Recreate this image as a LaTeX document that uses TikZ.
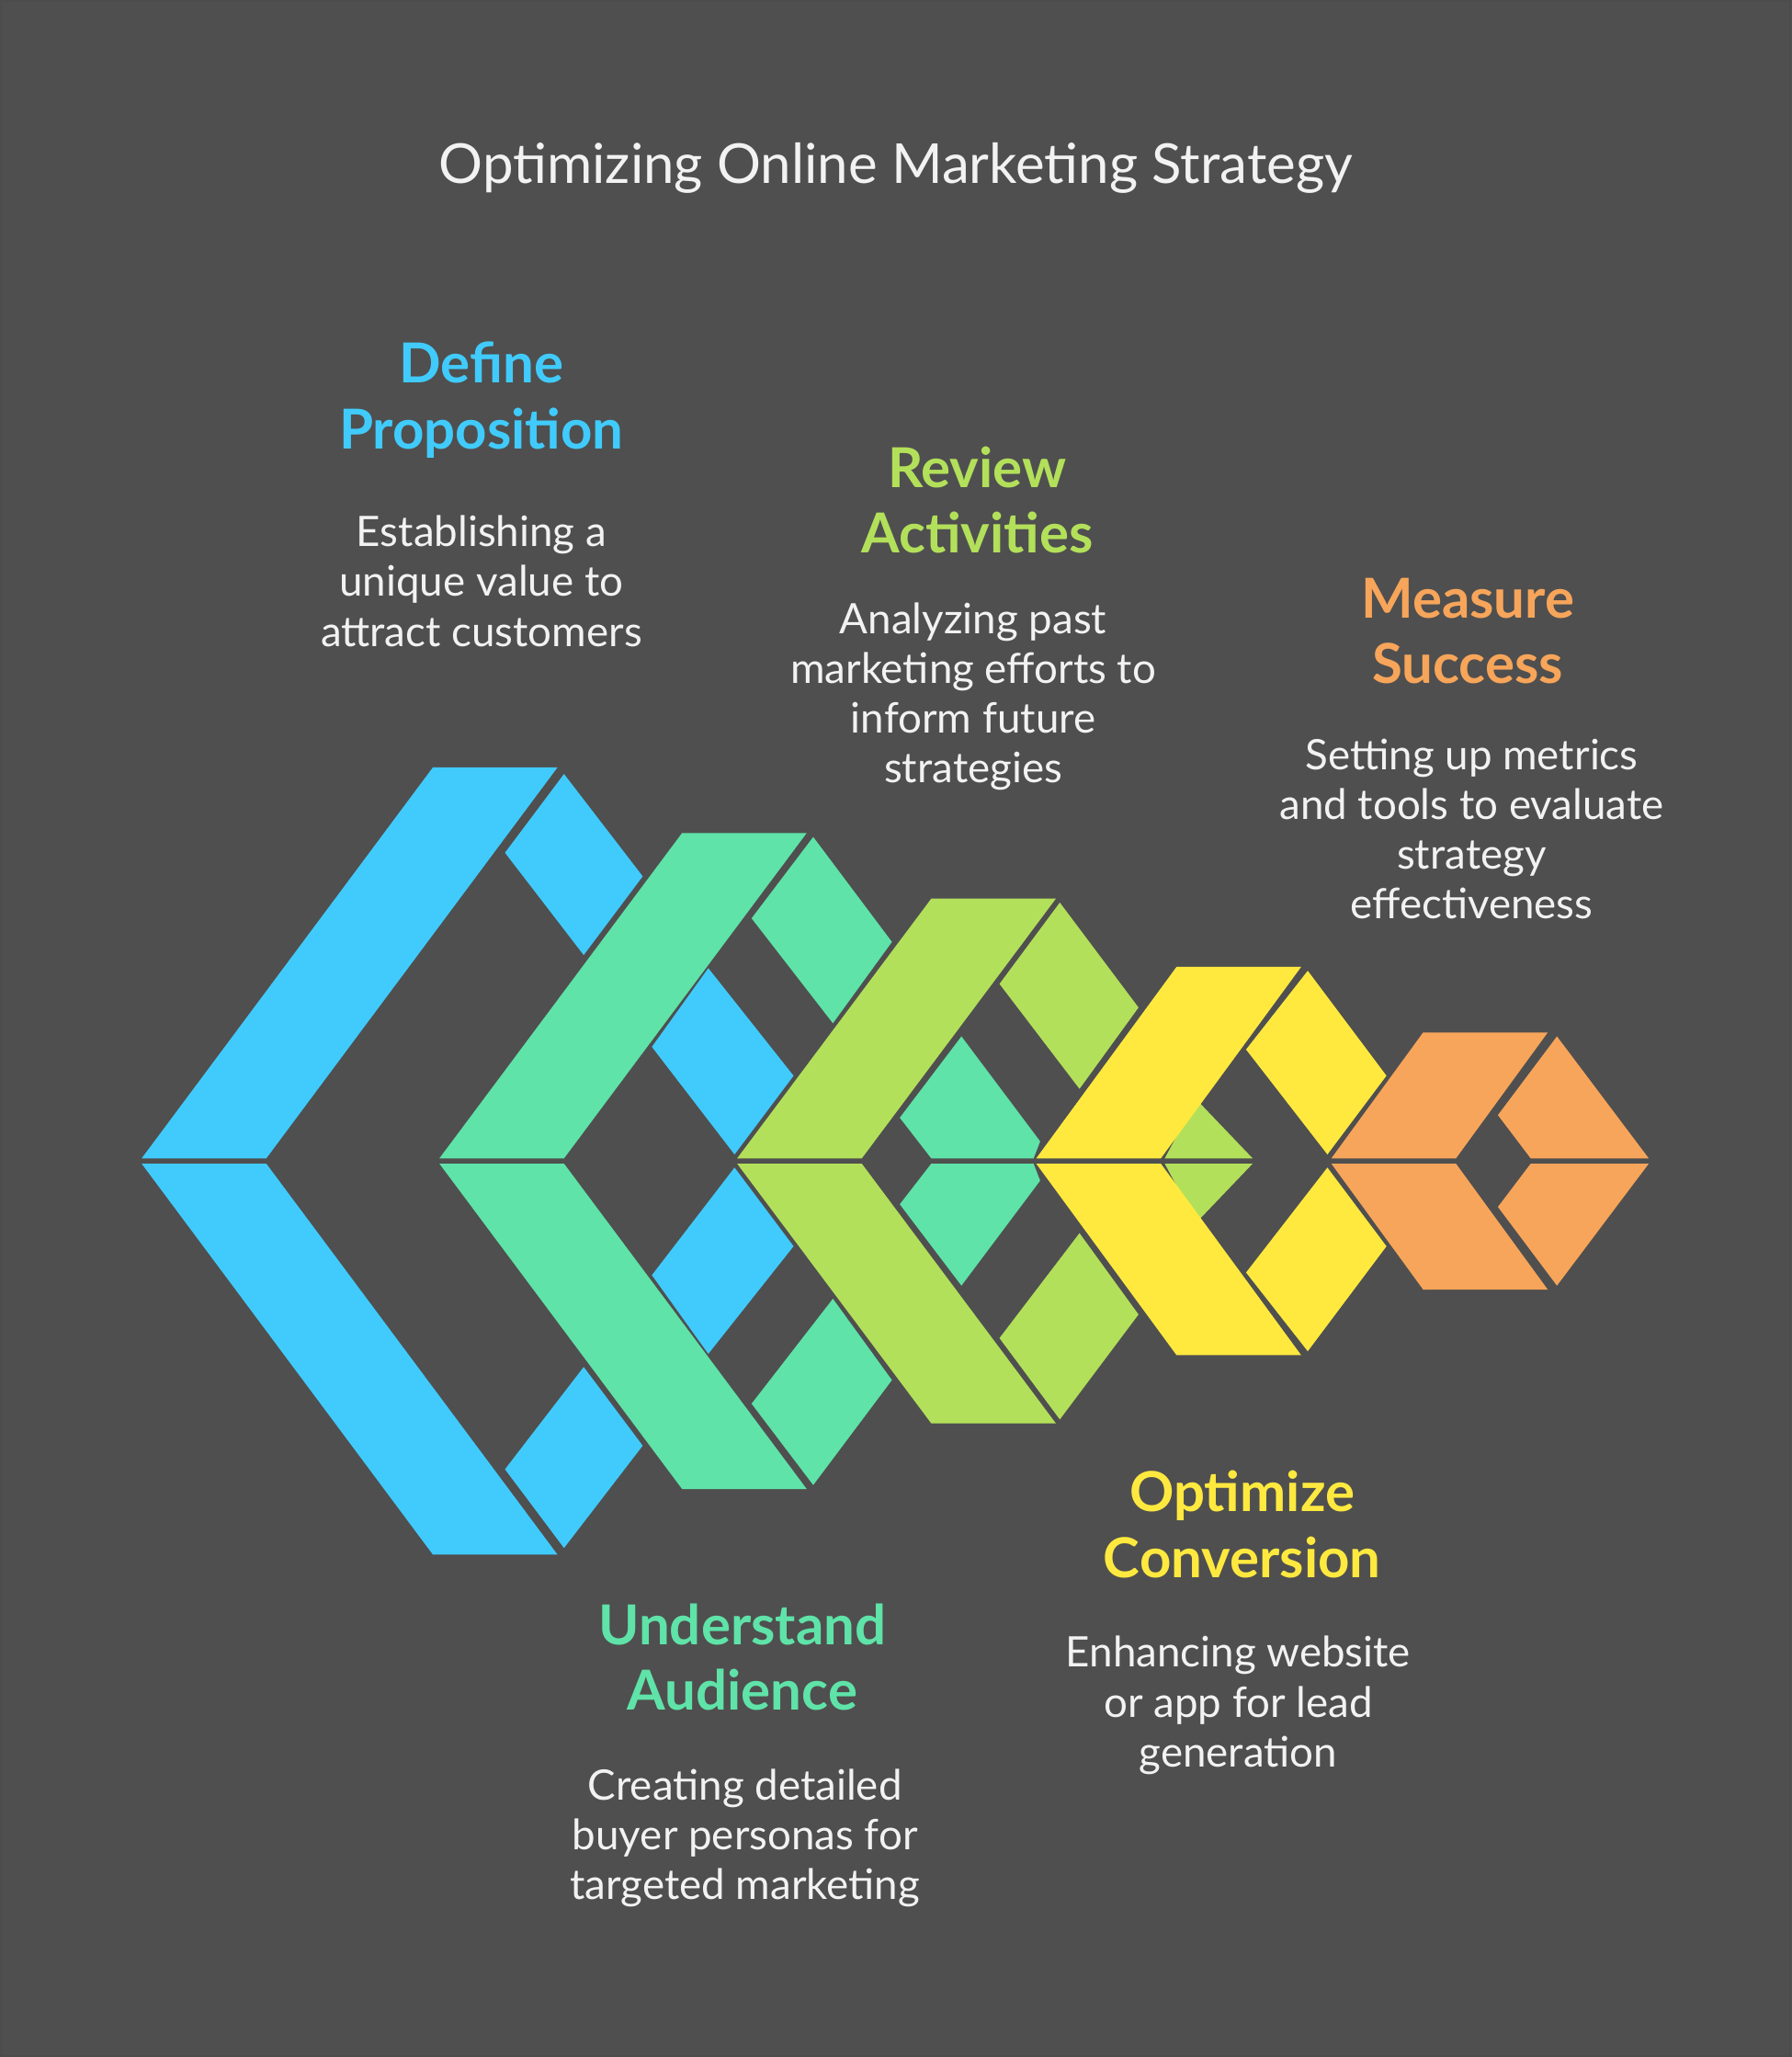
\documentclass[tikz,border=0pt]{standalone}
\usepackage{fontspec}
\setmainfont{Lato}
\definecolor{bg}{HTML}{4F4F4F}
\definecolor{cb}{HTML}{40CBFC}
\definecolor{cg}{HTML}{5FE3A8}
\definecolor{cl}{HTML}{B3E05A}
\definecolor{cy}{HTML}{FFE93F}
\definecolor{co}{HTML}{F7A55A}
\definecolor{tx}{HTML}{F2F2F2}
\begin{document}
\begin{tikzpicture}[x=1pt,y=-1pt,
 head/.style={font=\fontsize{42}{50}\selectfont\bfseries,align=center},
 body/.style={font=\fontsize{32}{38}\selectfont,align=center,text=tx}]
\fill[bg] (0,0) rectangle (1366,1568);
\draw[black!70,line width=1.5] (1,1) rectangle (1365,1567);
\node[font=\fontsize{42}{48}\selectfont,text=tx] (title) at (683,128) {Optimizing Online Marketing Strategy};
% blue
\fill[cb] (330,585)--(425,585)--(203,883)--(108,883)--cycle;
\fill[cb] (108,887)--(203,887)--(425,1185)--(330,1185)--cycle;
\fill[cb] (430,590)--(490,668)--(445,728)--(385,650)--cycle;
\fill[cb] (540,738)--(605,820)--(560,880)--(497,798)--cycle;
\fill[cb] (540,1032)--(605,950)--(560,890)--(497,972)--cycle;
\fill[cb] (430,1180)--(490,1102)--(445,1042)--(385,1120)--cycle;
% green
\fill[cg] (520,635)--(615,635)--(430,883)--(335,883)--cycle;
\fill[cg] (335,887)--(430,887)--(615,1135)--(520,1135)--cycle;
\fill[cg] (620,638)--(680,718)--(635,780)--(573,700)--cycle;
\fill[cg] (733,790)--(793,870)--(788,883)--(710,883)--(686,852)--cycle;
\fill[cg] (733,980)--(793,900)--(788,887)--(710,887)--(686,918)--cycle;
\fill[cg] (620,1132)--(680,1052)--(635,990)--(573,1070)--cycle;
% lime
\fill[cl] (710,685)--(805,685)--(657,883)--(562,883)--cycle;
\fill[cl] (562,887)--(657,887)--(805,1085)--(710,1085)--cycle;
\fill[cl] (808,688)--(868,768)--(823,830)--(762,750)--cycle;
\fill[cl] (912,838)--(955,883)--(888,883)--cycle;
\fill[cl] (912,932)--(955,887)--(888,887)--cycle;
\fill[cl] (808,1082)--(868,1002)--(823,940)--(762,1020)--cycle;
% yellow
\fill[cy] (897,737)--(992,737)--(885,883)--(790,883)--cycle;
\fill[cy] (790,887)--(885,887)--(992,1033)--(897,1033)--cycle;
\fill[cy] (997,740)--(1057,820)--(1012,880)--(950,800)--cycle;
\fill[cy] (997,1030)--(1057,950)--(1012,890)--(950,970)--cycle;
% orange
\fill[co] (1085,787)--(1180,787)--(1110,883)--(1015,883)--cycle;
\fill[co] (1015,887)--(1110,887)--(1180,983)--(1085,983)--cycle;
\fill[co] (1187,790)--(1257,883)--(1167,883)--(1142,850)--cycle;
\fill[co] (1187,980)--(1257,887)--(1167,887)--(1142,920)--cycle;
% texts
\node[head,text=cb] (h1) at (367,305) {Define\\Proposition};
\node[body] (b1) at (367,443) {Establishing a\\unique value to\\attract customers};
\node[head,text=cl] (h2) at (745,381) {Review\\Activities};
\node[body] (b2) at (742,531) {Analyzing past\\marketing efforts to\\inform future\\strategies};
\node[head,text=co] (h3) at (1119,481) {Measure\\Success};
\node[body] (b3) at (1122,632) {Setting up metrics\\and tools to evaluate\\strategy\\effectiveness};
\node[head,text=cg] (h4) at (566,1263) {Understand\\Audience};
\node[body] (b4) at (568,1401) {Creating detailed\\buyer personas for\\targeted marketing};
\node[head,text=cy] (h5) at (947,1162) {Optimize\\Conversion};
\node[body] (b5) at (944,1300) {Enhancing website\\or app for lead\\generation};
\end{tikzpicture}
\end{document}
